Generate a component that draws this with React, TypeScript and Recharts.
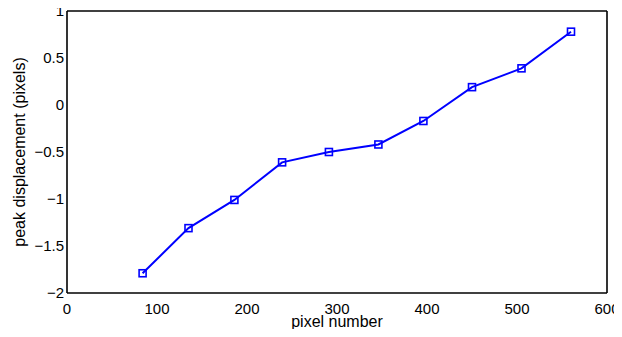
import React from 'react';
import { LineChart, Line, XAxis, YAxis } from 'recharts';

const pixelNumber = [84, 135, 186, 239, 291, 346, 396, 450, 505, 560];
const peakDisplacement = [-1.79, -1.31, -1.01, -0.61, -0.5, -0.42, -0.17, 0.19, 0.39, 0.78];
const xTicks = [0, 100, 200, 300, 400, 500, 600];
const yTicks = [-2, -1.5, -1, -0.5, 0, 0.5, 1];

const data = pixelNumber.map((x, i) => ({ x, y: peakDisplacement[i] }));

const FONT = '"Liberation Sans", Arial, Helvetica, sans-serif';
const BLUE = '#0000ff';

const fmtY = (v: number) => (v < 0 ? '\u2212' + String(Math.abs(v)) : String(v));

const SquareDot = (props: any) => {
  const { cx, cy } = props;
  if (cx == null || cy == null) return null;
  return <rect x={cx - 3.5} y={cy - 3.5} width={7} height={7} fill="none" stroke={BLUE} strokeWidth={1.6} />;
};

const YLabel = (props: any) => {
  const vb = props.viewBox || {};
  const cx = (vb.x || 0) + 19;
  const cy = (vb.y || 0) + (vb.height || 0) / 2;
  return (
    <text
      x={cx}
      y={cy}
      transform={`rotate(-90 ${cx} ${cy})`}
      textAnchor="middle"
      dominantBaseline="central"
      fontFamily={FONT}
      fontSize={16}
      fill="#000"
    >
      peak displacement (pixels)
    </text>
  );
};

export default function App() {
  const tickStyle = { fontFamily: FONT, fontSize: 15, fill: '#000' };
  return (
    <div style={{ margin: -8, width: 622, height: 337 }}>
      <LineChart width={622} height={337} data={data} margin={{ top: 11, right: 15, left: 0, bottom: 0 }}>
        <XAxis
          xAxisId="main"
          dataKey="x"
          type="number"
          domain={[0, 600]}
          ticks={xTicks}
          interval={0}
          orientation="bottom"
          height={44}
          tickLine={false}
          tickSize={2}
          tickMargin={8}
          axisLine={{ stroke: '#000', strokeWidth: 1.6 }}
          tick={tickStyle}
          label={{ value: 'pixel number', position: 'insideBottom', offset: 10, style: { fontFamily: FONT, fontSize: 16, fill: '#000' } }}
        />
        <XAxis
          xAxisId="bottomTicks"
          dataKey="x"
          type="number"
          domain={[0, 600]}
          ticks={xTicks}
          interval={0}
          orientation="bottom"
          mirror
          height={6}
          tick={false}
          axisLine={false}
          tickLine={{ stroke: '#000', strokeWidth: 1.4 }}
          tickSize={5}
        />
        <XAxis
          xAxisId="top"
          dataKey="x"
          type="number"
          domain={[0, 600]}
          ticks={xTicks}
          interval={0}
          orientation="top"
          mirror
          height={6}
          tick={false}
          axisLine={{ stroke: '#000', strokeWidth: 1.6 }}
          tickLine={{ stroke: '#000', strokeWidth: 1.4 }}
          tickSize={5}
        />
        <YAxis
          yAxisId="main"
          type="number"
          domain={[-2, 1]}
          ticks={yTicks}
          interval={0}
          orientation="left"
          width={67}
          tickLine={false}
          tickSize={2}
          tickMargin={1}
          axisLine={{ stroke: '#000', strokeWidth: 1.6 }}
          tick={tickStyle}
          tickFormatter={fmtY}
          label={<YLabel />}
        />
        <YAxis
          yAxisId="leftTicks"
          type="number"
          domain={[-2, 1]}
          ticks={yTicks}
          interval={0}
          orientation="left"
          mirror
          width={6}
          tick={false}
          axisLine={false}
          tickLine={{ stroke: '#000', strokeWidth: 1.4 }}
          tickSize={5}
        />
        <YAxis
          yAxisId="right"
          type="number"
          domain={[-2, 1]}
          ticks={yTicks}
          interval={0}
          orientation="right"
          mirror
          width={6}
          tick={false}
          axisLine={{ stroke: '#000', strokeWidth: 1.6 }}
          tickLine={{ stroke: '#000', strokeWidth: 1.4 }}
          tickSize={5}
        />
        <Line
          xAxisId="main"
          yAxisId="main"
          type="linear"
          dataKey="y"
          stroke={BLUE}
          strokeWidth={2}
          dot={<SquareDot />}
          activeDot={false}
          isAnimationActive={false}
        />
      </LineChart>
    </div>
  );
}
